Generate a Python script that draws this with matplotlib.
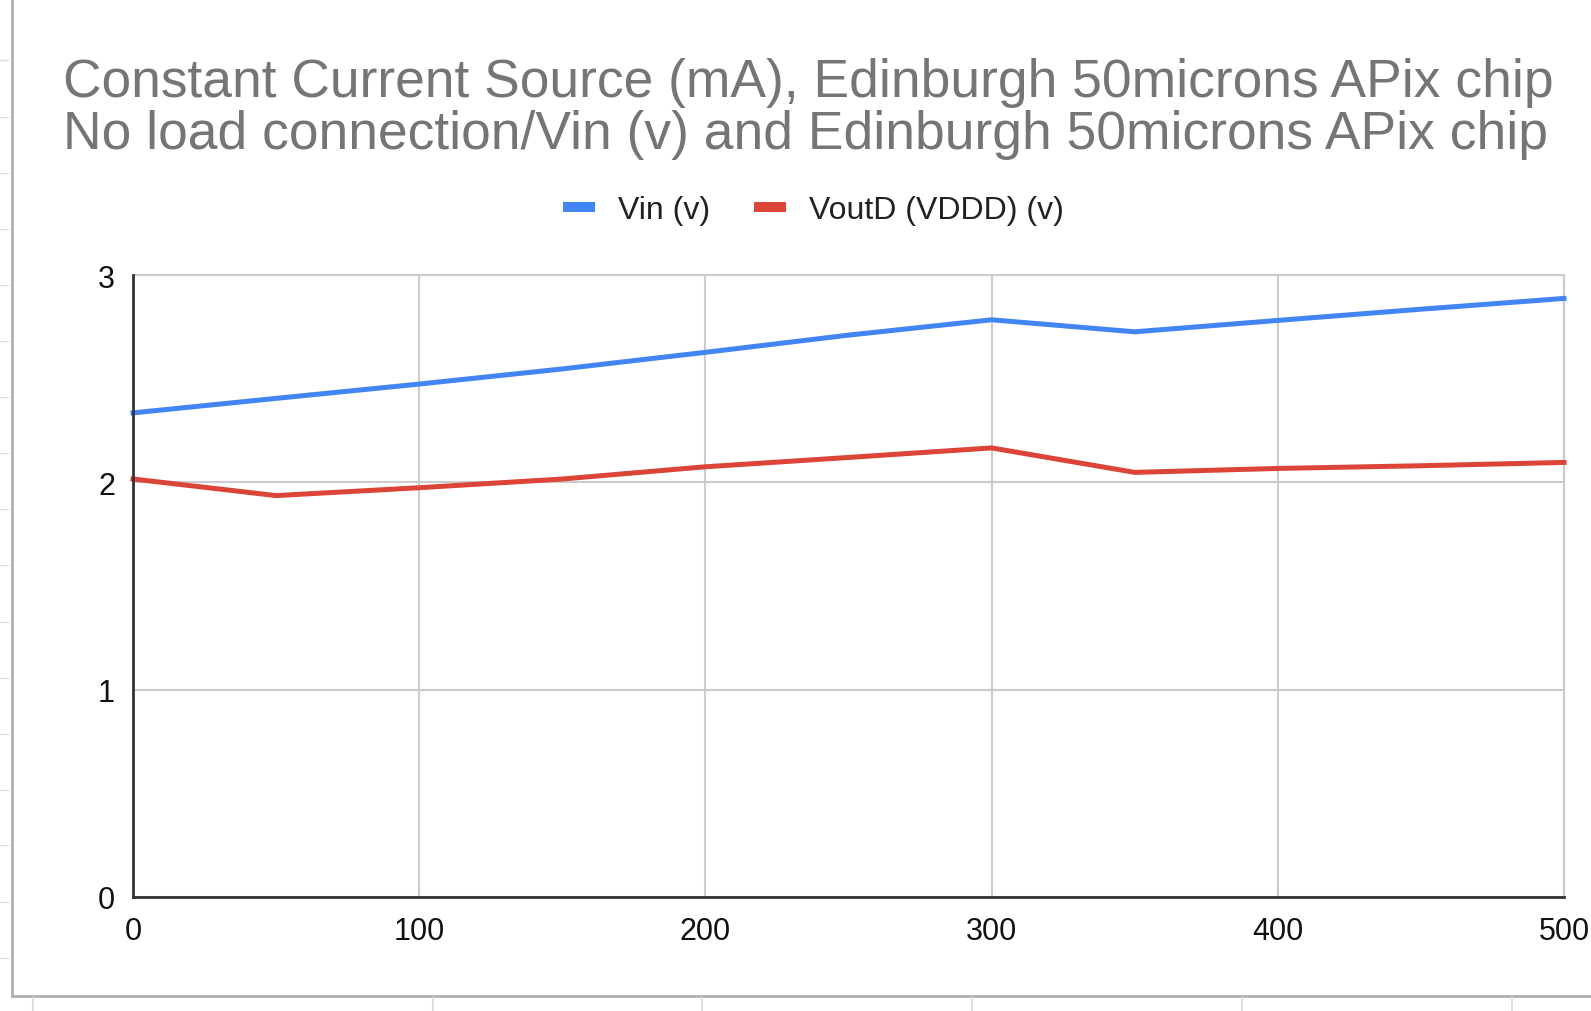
import matplotlib
matplotlib.use("Agg")
import matplotlib.pyplot as plt
from matplotlib.lines import Line2D

plt.rcParams['font.family'] = ['Liberation Sans', 'DejaVu Sans']

current_ma = [0, 50, 100, 150, 200, 250, 300, 350, 400, 450, 500]
vin = [2.335, 2.405, 2.474, 2.547, 2.627, 2.71, 2.784, 2.726, 2.781, 2.835, 2.887]
voutd = [2.016, 1.936, 1.974, 2.016, 2.075, 2.12, 2.166, 2.048, 2.067, 2.08, 2.096]
series_names = ["Vin (v)", "VoutD (VDDD) (v)"]
x_ticks = [0, 100, 200, 300, 400, 500]
y_ticks = [0, 1, 2, 3]
title = ("Constant Current Source (mA), Edinburgh 50microns APix chip\n"
         "No load connection/Vin (v) and Edinburgh 50microns APix chip")

W, H = 1591, 1012
fig = plt.figure(figsize=(W / 100, H / 100), dpi=100)
fig.patch.set_facecolor('white')

# axes placement (pixels)
x0, x1 = 133, 1564
y_top, y_bot = 276, 898
ax = fig.add_axes([x0 / W, 1 - y_bot / H, (x1 - x0) / W, (y_bot - y_top) / H])
ax.set_xlim(0, 500)
ax.set_ylim(0, 3)

blue = '#4285F4'
red = '#DB4437'
ax.plot(current_ma, vin, color=blue, lw=3.6, solid_joinstyle='round', zorder=3, clip_on=False)
ax.plot(current_ma, voutd, color=red, lw=3.6, solid_joinstyle='round', zorder=3, clip_on=False)

ax.set_xticks(x_ticks)
ax.set_yticks(y_ticks)
ax.grid(True, color='#cccccc', lw=1.5, zorder=0)
for s in ['top', 'right']:
    ax.spines[s].set_color('#cccccc')
    ax.spines[s].set_linewidth(1.5)
for s in ['left', 'bottom']:
    ax.spines[s].set_color('#333333')
    ax.spines[s].set_linewidth(2)
    ax.spines[s].set_zorder(4)
ax.tick_params(axis='both', length=0, labelsize=22, colors='#111111')
ax.tick_params(axis='x', pad=14)
ax.tick_params(axis='y', pad=13)

# title
fig.text(63 / W, 1 - 58 / H, title, ha='left', va='top', fontsize=38.4,
         color='#757575', linespacing=1.045)

# legend
handles = [Line2D([], [], color=blue, lw=7.2, solid_capstyle='butt'),
           Line2D([], [], color=red, lw=7.2, solid_capstyle='butt')]
fig.legend(handles, series_names, loc='center', bbox_to_anchor=(813.5 / W, 1 - 211 / H),
           ncol=2, frameon=False, fontsize=23, handlelength=1.0, handletextpad=0.72,
           columnspacing=1.35, labelcolor='#222222', borderpad=0, borderaxespad=0)

# spreadsheet cell border artifacts
border = '#b0b0b0'
fig.add_artist(Line2D([12 / W, 12 / W], [1, 1 - 997 / H], transform=fig.transFigure,
                      color=border, lw=2))
fig.add_artist(Line2D([12 / W, 1], [1 - 997 / H, 1 - 997 / H], transform=fig.transFigure,
                      color=border, lw=2))
for yy in [61, 118, 174, 230, 286, 342, 398, 454, 510, 566, 623, 679, 735, 791, 846, 903, 959]:
    fig.add_artist(Line2D([0, 8 / W], [1 - yy / H, 1 - yy / H], transform=fig.transFigure,
                          color='#dddddd', lw=1))
for xx in [33, 433, 702, 972, 1242, 1512]:
    fig.add_artist(Line2D([xx / W, xx / W], [1 - 999 / H, 0], transform=fig.transFigure,
                          color='#dddddd', lw=1.5))

fig.savefig('out.png', dpi=100, facecolor='white')
